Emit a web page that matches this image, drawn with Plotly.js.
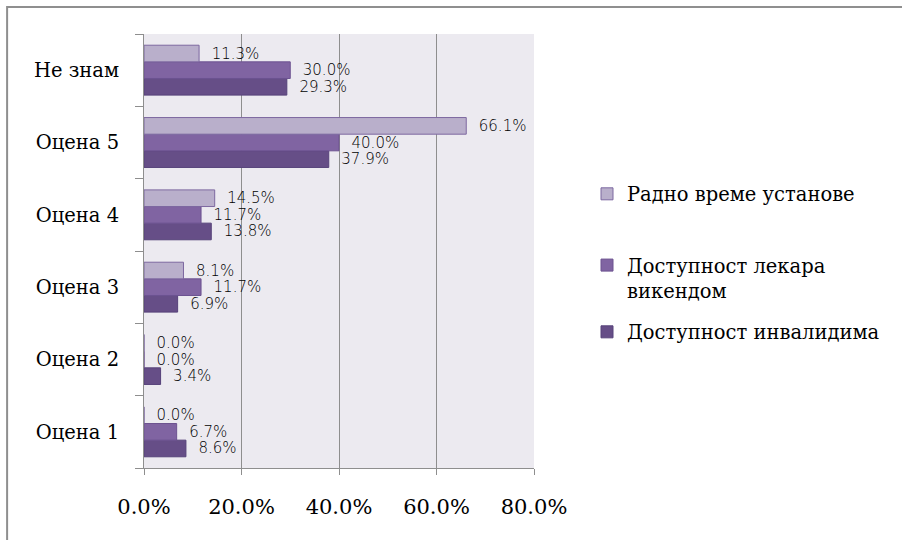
<!DOCTYPE html>
<html>
<head>
<meta charset="utf-8">
<script src="https://cdn.plot.ly/plotly-3.0.1.min.js"></script>
<style>
  html, body { margin: 0; padding: 0; background: #fff; overflow: hidden; }
</style>
</head>
<body>
<div id="chart" style="width:902px;height:540px;"></div>
<script>
// categories bottom -> top
const categories = ['Оцена 1', 'Оцена 2', 'Оцена 3', 'Оцена 4', 'Оцена 5', 'Не знам'];
const seriesNames = ['Радно време установе', 'Доступност лекара<br>викендом', 'Доступност инвалидима'];
const radnoVreme = [0.0, 0.0, 8.1, 14.5, 66.1, 11.3];
const lekarVikendom = [6.7, 0.0, 11.7, 11.7, 40.0, 30.0];
const invalidima = [8.6, 3.4, 6.9, 13.8, 37.9, 29.3];
const xTicks = [0, 20, 40, 60, 80];
const xTickText = xTicks.map(v => v.toFixed(1) + '%');

const serif = 'DejaVu Serif, serif';
const labelFont = { family: 'DejaVu Sans, sans-serif', size: 15, color: '#000000', weight: 200 };

function barTrace(name, vals, fill, line, legend) {
  return {
    type: 'bar', orientation: 'h', name: name,
    y: categories, x: vals,
    marker: { color: fill, line: { color: line, width: 1 } },
    text: vals.map(v => '\u00a0\u00a0' + v.toFixed(1) + '%'),
    textposition: 'outside', cliponaxis: false, constraintext: 'none',
    textfont: labelFont,
    legend: legend,
    hoverinfo: 'skip'
  };
}

const data = [
  barTrace(seriesNames[2], invalidima, '#664E87', '#56427A', 'legend3'),
  barTrace(seriesNames[1], lekarVikendom, '#8064A2', '#6C5290', 'legend2'),
  barTrace(seriesNames[0], radnoVreme, '#B9AFCB', '#7D68A0', 'legend')
];

const legendBase = (y, extra) => Object.assign({
  x: 1.1359, xanchor: 'left', y: y, yanchor: 'middle',
  bgcolor: 'rgba(0,0,0,0)', borderwidth: 0,
  font: { family: serif, size: 19.5, color: '#000000' }
}, extra || {});

const layout = {
  width: 902, height: 540,
  margin: { l: 144, r: 368, t: 34, b: 72 },
  paper_bgcolor: '#ffffff',
  plot_bgcolor: '#ECEAF0',
  barmode: 'group', bargap: 0.31, bargroupgap: 0,
  showlegend: true,
  legend: legendBase(0.631),
  legend2: legendBase(0.438, { valign: 'top' }),
  legend3: legendBase(0.313),
  xaxis: {
    range: [0, 80], tickmode: 'array', tickvals: xTicks, ticktext: xTickText,
    showgrid: true, gridcolor: '#8E8E8E', gridwidth: 1,
    zeroline: false, showline: true, linecolor: '#8E8E8E', linewidth: 1,
    ticks: 'outside', ticklen: 6, tickcolor: '#8E8E8E',
    ticklabelstandoff: 14,
    tickfont: { family: serif, size: 21, color: '#000000' }
  },
  yaxis: {
    type: 'category', categoryorder: 'array', categoryarray: categories,
    showgrid: false, zeroline: false, showline: true, linecolor: '#8E8E8E', linewidth: 1,
    ticks: 'outside', tickson: 'boundaries', ticklen: 8, tickcolor: '#8E8E8E',
    ticklabelstandoff: 20,
    tickfont: { family: serif, size: 19.5, color: '#000000' }
  },
  shapes: [{
    type: 'rect', xref: 'paper', yref: 'paper',
    x0: -0.351, x1: 2.3, y0: -0.3, y1: 1.0622,
    line: { color: '#8F8F8F', width: 2 }, fillcolor: 'rgba(0,0,0,0)', layer: 'below'
  }]
};

Plotly.newPlot('chart', data, layout, { displayModeBar: false, staticPlot: true });
</script>
</body>
</html>
